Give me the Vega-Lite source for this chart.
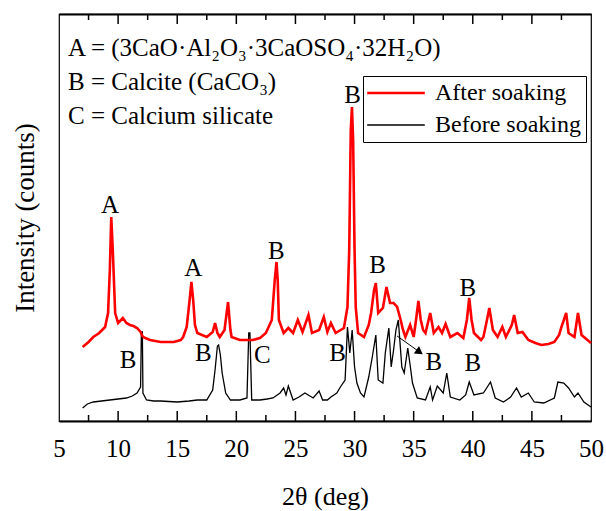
{
  "$schema": "https://vega.github.io/schema/vega-lite/v6.json",
  "width": 532,
  "height": 407,
  "autosize": {"type": "none"},
  "padding": {"left": 59, "top": 14, "right": 15, "bottom": 90},
  "config": {
    "font": "Liberation Serif",
    "view": {"stroke": "#000", "strokeWidth": 1.2},
    "axis": {"labelColor": "#000", "titleColor": "#000", "titleFontWeight": "normal", "grid": false, "domainColor": "#000", "tickColor": "#000"}
  },
  "datasets": {
    "xrd": [
      {"two_theta": 7.0, "intensity": 74, "series": "After soaking"},
      {"two_theta": 7.5, "intensity": 79, "series": "After soaking"},
      {"two_theta": 7.9, "intensity": 84, "series": "After soaking"},
      {"two_theta": 8.4, "intensity": 88, "series": "After soaking"},
      {"two_theta": 8.9, "intensity": 94, "series": "After soaking"},
      {"two_theta": 9.15, "intensity": 108, "series": "After soaking"},
      {"two_theta": 9.3, "intensity": 151, "series": "After soaking"},
      {"two_theta": 9.42, "intensity": 204, "series": "After soaking"},
      {"two_theta": 9.55, "intensity": 171, "series": "After soaking"},
      {"two_theta": 9.75, "intensity": 108, "series": "After soaking"},
      {"two_theta": 10.0, "intensity": 98, "series": "After soaking"},
      {"two_theta": 10.4, "intensity": 103, "series": "After soaking"},
      {"two_theta": 10.7, "intensity": 98, "series": "After soaking"},
      {"two_theta": 11.0, "intensity": 96, "series": "After soaking"},
      {"two_theta": 11.3, "intensity": 95, "series": "After soaking"},
      {"two_theta": 11.6, "intensity": 93, "series": "After soaking"},
      {"two_theta": 11.9, "intensity": 89, "series": "After soaking"},
      {"two_theta": 12.1, "intensity": 84, "series": "After soaking"},
      {"two_theta": 12.7, "intensity": 81, "series": "After soaking"},
      {"two_theta": 13.6, "intensity": 79, "series": "After soaking"},
      {"two_theta": 14.7, "intensity": 79, "series": "After soaking"},
      {"two_theta": 15.3, "intensity": 81, "series": "After soaking"},
      {"two_theta": 15.5, "intensity": 84, "series": "After soaking"},
      {"two_theta": 15.8, "intensity": 94, "series": "After soaking"},
      {"two_theta": 16.05, "intensity": 121, "series": "After soaking"},
      {"two_theta": 16.2, "intensity": 139, "series": "After soaking"},
      {"two_theta": 16.35, "intensity": 121, "series": "After soaking"},
      {"two_theta": 16.5, "intensity": 96, "series": "After soaking"},
      {"two_theta": 16.7, "intensity": 88, "series": "After soaking"},
      {"two_theta": 17.5, "intensity": 84, "series": "After soaking"},
      {"two_theta": 18.0, "intensity": 89, "series": "After soaking"},
      {"two_theta": 18.2, "intensity": 98, "series": "After soaking"},
      {"two_theta": 18.4, "intensity": 88, "series": "After soaking"},
      {"two_theta": 18.6, "intensity": 84, "series": "After soaking"},
      {"two_theta": 19.0, "intensity": 91, "series": "After soaking"},
      {"two_theta": 19.3, "intensity": 119, "series": "After soaking"},
      {"two_theta": 19.5, "intensity": 91, "series": "After soaking"},
      {"two_theta": 19.6, "intensity": 84, "series": "After soaking"},
      {"two_theta": 20.3, "intensity": 81, "series": "After soaking"},
      {"two_theta": 21.4, "intensity": 81, "series": "After soaking"},
      {"two_theta": 22.0, "intensity": 83, "series": "After soaking"},
      {"two_theta": 22.5, "intensity": 88, "series": "After soaking"},
      {"two_theta": 23.0, "intensity": 101, "series": "After soaking"},
      {"two_theta": 23.25, "intensity": 141, "series": "After soaking"},
      {"two_theta": 23.4, "intensity": 159, "series": "After soaking"},
      {"two_theta": 23.5, "intensity": 141, "series": "After soaking"},
      {"two_theta": 23.6, "intensity": 101, "series": "After soaking"},
      {"two_theta": 24.0, "intensity": 88, "series": "After soaking"},
      {"two_theta": 24.4, "intensity": 93, "series": "After soaking"},
      {"two_theta": 24.8, "intensity": 88, "series": "After soaking"},
      {"two_theta": 25.2, "intensity": 101, "series": "After soaking"},
      {"two_theta": 25.6, "intensity": 89, "series": "After soaking"},
      {"two_theta": 26.1, "intensity": 106, "series": "After soaking"},
      {"two_theta": 26.4, "intensity": 88, "series": "After soaking"},
      {"two_theta": 27.0, "intensity": 91, "series": "After soaking"},
      {"two_theta": 27.4, "intensity": 104, "series": "After soaking"},
      {"two_theta": 27.7, "intensity": 89, "series": "After soaking"},
      {"two_theta": 28.0, "intensity": 98, "series": "After soaking"},
      {"two_theta": 28.4, "intensity": 88, "series": "After soaking"},
      {"two_theta": 29.1, "intensity": 93, "series": "After soaking"},
      {"two_theta": 29.4, "intensity": 114, "series": "After soaking"},
      {"two_theta": 29.55, "intensity": 171, "series": "After soaking"},
      {"two_theta": 29.68, "intensity": 291, "series": "After soaking"},
      {"two_theta": 29.78, "intensity": 314, "series": "After soaking"},
      {"two_theta": 29.88, "intensity": 281, "series": "After soaking"},
      {"two_theta": 30.0, "intensity": 171, "series": "After soaking"},
      {"two_theta": 30.1, "intensity": 114, "series": "After soaking"},
      {"two_theta": 30.3, "intensity": 88, "series": "After soaking"},
      {"two_theta": 30.8, "intensity": 84, "series": "After soaking"},
      {"two_theta": 31.2, "intensity": 96, "series": "After soaking"},
      {"two_theta": 31.4, "intensity": 108, "series": "After soaking"},
      {"two_theta": 31.65, "intensity": 131, "series": "After soaking"},
      {"two_theta": 31.8, "intensity": 138, "series": "After soaking"},
      {"two_theta": 32.0, "intensity": 108, "series": "After soaking"},
      {"two_theta": 32.4, "intensity": 113, "series": "After soaking"},
      {"two_theta": 32.7, "intensity": 134, "series": "After soaking"},
      {"two_theta": 33.0, "intensity": 118, "series": "After soaking"},
      {"two_theta": 33.3, "intensity": 118, "series": "After soaking"},
      {"two_theta": 33.6, "intensity": 114, "series": "After soaking"},
      {"two_theta": 33.9, "intensity": 101, "series": "After soaking"},
      {"two_theta": 34.1, "intensity": 91, "series": "After soaking"},
      {"two_theta": 34.3, "intensity": 84, "series": "After soaking"},
      {"two_theta": 34.7, "intensity": 96, "series": "After soaking"},
      {"two_theta": 35.0, "intensity": 84, "series": "After soaking"},
      {"two_theta": 35.2, "intensity": 101, "series": "After soaking"},
      {"two_theta": 35.4, "intensity": 120, "series": "After soaking"},
      {"two_theta": 35.6, "intensity": 101, "series": "After soaking"},
      {"two_theta": 35.8, "intensity": 91, "series": "After soaking"},
      {"two_theta": 36.0, "intensity": 88, "series": "After soaking"},
      {"two_theta": 36.4, "intensity": 108, "series": "After soaking"},
      {"two_theta": 36.7, "intensity": 88, "series": "After soaking"},
      {"two_theta": 37.1, "intensity": 94, "series": "After soaking"},
      {"two_theta": 37.4, "intensity": 88, "series": "After soaking"},
      {"two_theta": 37.7, "intensity": 97, "series": "After soaking"},
      {"two_theta": 38.1, "intensity": 84, "series": "After soaking"},
      {"two_theta": 38.7, "intensity": 88, "series": "After soaking"},
      {"two_theta": 39.2, "intensity": 83, "series": "After soaking"},
      {"two_theta": 39.5, "intensity": 101, "series": "After soaking"},
      {"two_theta": 39.7, "intensity": 123, "series": "After soaking"},
      {"two_theta": 39.9, "intensity": 101, "series": "After soaking"},
      {"two_theta": 40.1, "intensity": 88, "series": "After soaking"},
      {"two_theta": 40.7, "intensity": 81, "series": "After soaking"},
      {"two_theta": 40.9, "intensity": 84, "series": "After soaking"},
      {"two_theta": 41.2, "intensity": 101, "series": "After soaking"},
      {"two_theta": 41.4, "intensity": 113, "series": "After soaking"},
      {"two_theta": 41.7, "intensity": 91, "series": "After soaking"},
      {"two_theta": 42.1, "intensity": 84, "series": "After soaking"},
      {"two_theta": 42.5, "intensity": 94, "series": "After soaking"},
      {"two_theta": 42.8, "intensity": 84, "series": "After soaking"},
      {"two_theta": 43.3, "intensity": 96, "series": "After soaking"},
      {"two_theta": 43.5, "intensity": 106, "series": "After soaking"},
      {"two_theta": 43.8, "intensity": 88, "series": "After soaking"},
      {"two_theta": 44.2, "intensity": 89, "series": "After soaking"},
      {"two_theta": 44.7, "intensity": 81, "series": "After soaking"},
      {"two_theta": 45.3, "intensity": 78, "series": "After soaking"},
      {"two_theta": 45.8, "intensity": 76, "series": "After soaking"},
      {"two_theta": 46.4, "intensity": 77, "series": "After soaking"},
      {"two_theta": 46.9, "intensity": 79, "series": "After soaking"},
      {"two_theta": 47.3, "intensity": 86, "series": "After soaking"},
      {"two_theta": 47.5, "intensity": 94, "series": "After soaking"},
      {"two_theta": 47.9, "intensity": 108, "series": "After soaking"},
      {"two_theta": 48.1, "intensity": 88, "series": "After soaking"},
      {"two_theta": 48.6, "intensity": 84, "series": "After soaking"},
      {"two_theta": 48.9, "intensity": 108, "series": "After soaking"},
      {"two_theta": 49.2, "intensity": 86, "series": "After soaking"},
      {"two_theta": 49.7, "intensity": 81, "series": "After soaking"},
      {"two_theta": 50.0, "intensity": 78, "series": "After soaking"},
      {"two_theta": 7.0, "intensity": 13, "series": "Before soaking"},
      {"two_theta": 7.4, "intensity": 17, "series": "Before soaking"},
      {"two_theta": 7.9, "intensity": 19, "series": "Before soaking"},
      {"two_theta": 8.6, "intensity": 20, "series": "Before soaking"},
      {"two_theta": 9.3, "intensity": 21, "series": "Before soaking"},
      {"two_theta": 10.0, "intensity": 22, "series": "Before soaking"},
      {"two_theta": 10.7, "intensity": 23, "series": "Before soaking"},
      {"two_theta": 11.2, "intensity": 25, "series": "Before soaking"},
      {"two_theta": 11.6, "intensity": 28, "series": "Before soaking"},
      {"two_theta": 11.9, "intensity": 34, "series": "Before soaking"},
      {"two_theta": 11.97, "intensity": 89, "series": "Before soaking"},
      {"two_theta": 12.05, "intensity": 89, "series": "Before soaking"},
      {"two_theta": 12.1, "intensity": 28, "series": "Before soaking"},
      {"two_theta": 12.4, "intensity": 21, "series": "Before soaking"},
      {"two_theta": 13.0, "intensity": 20, "series": "Before soaking"},
      {"two_theta": 13.6, "intensity": 20, "series": "Before soaking"},
      {"two_theta": 15.0, "intensity": 19, "series": "Before soaking"},
      {"two_theta": 16.0, "intensity": 20, "series": "Before soaking"},
      {"two_theta": 16.7, "intensity": 21, "series": "Before soaking"},
      {"two_theta": 17.5, "intensity": 21, "series": "Before soaking"},
      {"two_theta": 18.0, "intensity": 31, "series": "Before soaking"},
      {"two_theta": 18.2, "intensity": 51, "series": "Before soaking"},
      {"two_theta": 18.4, "intensity": 75, "series": "Before soaking"},
      {"two_theta": 18.5, "intensity": 76, "series": "Before soaking"},
      {"two_theta": 18.65, "intensity": 66, "series": "Before soaking"},
      {"two_theta": 18.8, "intensity": 48, "series": "Before soaking"},
      {"two_theta": 19.1, "intensity": 28, "series": "Before soaking"},
      {"two_theta": 19.5, "intensity": 21, "series": "Before soaking"},
      {"two_theta": 20.3, "intensity": 21, "series": "Before soaking"},
      {"two_theta": 20.9, "intensity": 23, "series": "Before soaking"},
      {"two_theta": 21.05, "intensity": 88, "series": "Before soaking"},
      {"two_theta": 21.15, "intensity": 88, "series": "Before soaking"},
      {"two_theta": 21.3, "intensity": 21, "series": "Before soaking"},
      {"two_theta": 22.0, "intensity": 21, "series": "Before soaking"},
      {"two_theta": 22.6, "intensity": 22, "series": "Before soaking"},
      {"two_theta": 23.1, "intensity": 23, "series": "Before soaking"},
      {"two_theta": 23.7, "intensity": 28, "series": "Before soaking"},
      {"two_theta": 24.0, "intensity": 33, "series": "Before soaking"},
      {"two_theta": 24.2, "intensity": 26, "series": "Before soaking"},
      {"two_theta": 24.4, "intensity": 35, "series": "Before soaking"},
      {"two_theta": 24.8, "intensity": 21, "series": "Before soaking"},
      {"two_theta": 25.3, "intensity": 24, "series": "Before soaking"},
      {"two_theta": 25.8, "intensity": 28, "series": "Before soaking"},
      {"two_theta": 26.5, "intensity": 23, "series": "Before soaking"},
      {"two_theta": 27.0, "intensity": 30, "series": "Before soaking"},
      {"two_theta": 27.3, "intensity": 21, "series": "Before soaking"},
      {"two_theta": 27.7, "intensity": 21, "series": "Before soaking"},
      {"two_theta": 28.0, "intensity": 24, "series": "Before soaking"},
      {"two_theta": 28.5, "intensity": 28, "series": "Before soaking"},
      {"two_theta": 28.8, "intensity": 34, "series": "Before soaking"},
      {"two_theta": 29.2, "intensity": 41, "series": "Before soaking"},
      {"two_theta": 29.4, "intensity": 94, "series": "Before soaking"},
      {"two_theta": 29.6, "intensity": 68, "series": "Before soaking"},
      {"two_theta": 29.8, "intensity": 91, "series": "Before soaking"},
      {"two_theta": 30.0, "intensity": 54, "series": "Before soaking"},
      {"two_theta": 30.2, "intensity": 38, "series": "Before soaking"},
      {"two_theta": 30.5, "intensity": 28, "series": "Before soaking"},
      {"two_theta": 30.8, "intensity": 24, "series": "Before soaking"},
      {"two_theta": 31.2, "intensity": 44, "series": "Before soaking"},
      {"two_theta": 31.5, "intensity": 64, "series": "Before soaking"},
      {"two_theta": 31.8, "intensity": 86, "series": "Before soaking"},
      {"two_theta": 32.0, "intensity": 41, "series": "Before soaking"},
      {"two_theta": 32.4, "intensity": 38, "series": "Before soaking"},
      {"two_theta": 32.6, "intensity": 68, "series": "Before soaking"},
      {"two_theta": 32.9, "intensity": 93, "series": "Before soaking"},
      {"two_theta": 33.1, "intensity": 54, "series": "Before soaking"},
      {"two_theta": 33.3, "intensity": 71, "series": "Before soaking"},
      {"two_theta": 33.5, "intensity": 91, "series": "Before soaking"},
      {"two_theta": 33.7, "intensity": 101, "series": "Before soaking"},
      {"two_theta": 34.0, "intensity": 54, "series": "Before soaking"},
      {"two_theta": 34.2, "intensity": 48, "series": "Before soaking"},
      {"two_theta": 34.5, "intensity": 73, "series": "Before soaking"},
      {"two_theta": 34.7, "intensity": 56, "series": "Before soaking"},
      {"two_theta": 34.9, "intensity": 38, "series": "Before soaking"},
      {"two_theta": 35.3, "intensity": 23, "series": "Before soaking"},
      {"two_theta": 36.0, "intensity": 21, "series": "Before soaking"},
      {"two_theta": 36.4, "intensity": 34, "series": "Before soaking"},
      {"two_theta": 36.6, "intensity": 21, "series": "Before soaking"},
      {"two_theta": 37.0, "intensity": 35, "series": "Before soaking"},
      {"two_theta": 37.5, "intensity": 28, "series": "Before soaking"},
      {"two_theta": 37.8, "intensity": 48, "series": "Before soaking"},
      {"two_theta": 38.1, "intensity": 24, "series": "Before soaking"},
      {"two_theta": 38.9, "intensity": 21, "series": "Before soaking"},
      {"two_theta": 39.4, "intensity": 26, "series": "Before soaking"},
      {"two_theta": 39.7, "intensity": 39, "series": "Before soaking"},
      {"two_theta": 40.1, "intensity": 26, "series": "Before soaking"},
      {"two_theta": 40.9, "intensity": 28, "series": "Before soaking"},
      {"two_theta": 41.5, "intensity": 39, "series": "Before soaking"},
      {"two_theta": 41.9, "intensity": 23, "series": "Before soaking"},
      {"two_theta": 42.6, "intensity": 19, "series": "Before soaking"},
      {"two_theta": 43.2, "intensity": 24, "series": "Before soaking"},
      {"two_theta": 43.7, "intensity": 33, "series": "Before soaking"},
      {"two_theta": 44.1, "intensity": 24, "series": "Before soaking"},
      {"two_theta": 44.7, "intensity": 28, "series": "Before soaking"},
      {"two_theta": 45.2, "intensity": 19, "series": "Before soaking"},
      {"two_theta": 46.0, "intensity": 18, "series": "Before soaking"},
      {"two_theta": 46.9, "intensity": 23, "series": "Before soaking"},
      {"two_theta": 47.2, "intensity": 39, "series": "Before soaking"},
      {"two_theta": 47.7, "intensity": 38, "series": "Before soaking"},
      {"two_theta": 48.1, "intensity": 33, "series": "Before soaking"},
      {"two_theta": 48.6, "intensity": 24, "series": "Before soaking"},
      {"two_theta": 48.9, "intensity": 28, "series": "Before soaking"},
      {"two_theta": 49.4, "intensity": 19, "series": "Before soaking"},
      {"two_theta": 50.0, "intensity": 14, "series": "Before soaking"}
    ],
    "ticks": [
      {"two_theta": 10, "kind": "major"},
      {"two_theta": 15, "kind": "major"},
      {"two_theta": 20, "kind": "major"},
      {"two_theta": 25, "kind": "major"},
      {"two_theta": 30, "kind": "major"},
      {"two_theta": 35, "kind": "major"},
      {"two_theta": 40, "kind": "major"},
      {"two_theta": 45, "kind": "major"},
      {"two_theta": 7.5, "kind": "minor"},
      {"two_theta": 12.5, "kind": "minor"},
      {"two_theta": 17.5, "kind": "minor"},
      {"two_theta": 22.5, "kind": "minor"},
      {"two_theta": 27.5, "kind": "minor"},
      {"two_theta": 32.5, "kind": "minor"},
      {"two_theta": 37.5, "kind": "minor"},
      {"two_theta": 42.5, "kind": "minor"},
      {"two_theta": 47.5, "kind": "minor"}
    ],
    "peaks": [
      {"two_theta": 9.32, "intensity": 216, "label": "A"},
      {"two_theta": 16.36, "intensity": 153, "label": "A"},
      {"two_theta": 23.39, "intensity": 170, "label": "B"},
      {"two_theta": 29.83, "intensity": 326, "label": "B"},
      {"two_theta": 31.95, "intensity": 156, "label": "B"},
      {"two_theta": 39.58, "intensity": 133, "label": "B"},
      {"two_theta": 10.85, "intensity": 61, "label": "B"},
      {"two_theta": 17.2, "intensity": 68, "label": "B"},
      {"two_theta": 22.2, "intensity": 66, "label": "C"},
      {"two_theta": 28.56, "intensity": 68, "label": "B"},
      {"two_theta": 36.7, "intensity": 59, "label": "B"},
      {"two_theta": 40.0, "intensity": 58, "label": "B"}
    ],
    "notes": [
      {"two_theta": 5.76, "intensity": 373, "text": "A = (3CaO·Al₂O₃·3CaOSO₄·32H₂O)"},
      {"two_theta": 5.76, "intensity": 339, "text": "B = Calcite (CaCO₃)"},
      {"two_theta": 5.76, "intensity": 305, "text": "C = Calcium silicate"}
    ],
    "arrow": [
      {"x1": 33.6, "y1": 85, "x2": 35.5, "y2": 69, "angle": 35}
    ]
  },
  "resolve": {"axis": {"x": "independent"}},
  "layer": [
    {
      "data": {"name": "xrd"},
      "transform": [{"filter": "datum.series === 'Before soaking'"}],
      "mark": {"type": "line"},
      "encoding": {
        "x": {
          "field": "two_theta", "type": "quantitative",
          "scale": {"domain": [5, 50], "nice": false, "zero": false},
          "axis": {
            "orient": "bottom",
            "values": [5, 10, 15, 20, 25, 30, 35, 40, 45, 50],
            "format": "d",
            "domain": true,
            "domainWidth": 2,
            "ticks": false,
            "labelFontSize": 25,
            "labelPadding": 15,
            "labelFlush": false,
            "labelOverlap": false,
            "title": "2θ (deg)",
            "titleFontSize": 26,
            "titlePadding": 22
          }
        },
        "y": {
          "field": "intensity", "type": "quantitative",
          "scale": {"domain": [0, 407], "nice": false},
          "axis": {"title": "Intensity (counts)", "labels": false, "ticks": false, "domain": false, "titleFontSize": 27, "titlePadding": 20}
        },
        "color": {
          "field": "series", "type": "nominal",
          "scale": {"domain": ["After soaking", "Before soaking"], "range": ["#ff0000", "#000000"]},
          "legend": {
            "orient": "none", "legendX": 304, "legendY": 62, "title": null,
            "symbolType": "M-3.2,0H3.2", "symbolSize": 324, "symbolOffset": 16,
            "labelFontSize": 24, "labelColor": "#000", "labelFont": "Liberation Serif", "labelOffset": 27,
            "strokeColor": "#000", "padding": 5, "rowPadding": 8, "fillColor": "#fff"
          }
        },
        "strokeWidth": {
          "field": "series", "type": "nominal",
          "scale": {"domain": ["After soaking", "Before soaking"], "range": [2.6, 1.3]},
          "legend": {
            "orient": "none", "legendX": 304, "legendY": 62, "title": null,
            "symbolType": "M-3.2,0H3.2", "symbolSize": 324, "symbolOffset": 16,
            "labelFontSize": 24, "labelColor": "#000", "labelFont": "Liberation Serif", "labelOffset": 27,
            "strokeColor": "#000", "padding": 5, "rowPadding": 8, "fillColor": "#fff"
          }
        }
      }
    },
    {
      "data": {"name": "xrd"},
      "transform": [{"filter": "datum.series === 'After soaking'"}],
      "mark": {"type": "line"},
      "encoding": {
        "x": {
          "field": "two_theta", "type": "quantitative",
          "axis": {"orient": "top", "labels": false, "ticks": false, "domain": true, "domainWidth": 2, "title": null}
        },
        "y": {"field": "intensity", "type": "quantitative"},
        "color": {"field": "series", "type": "nominal"},
        "strokeWidth": {"field": "series", "type": "nominal"}
      }
    },
    {
      "data": {"name": "ticks"},
      "transform": [{"filter": "datum.kind === 'major'"}],
      "mark": {"type": "rule", "color": "#000", "strokeWidth": 1.5},
      "encoding": {
        "x": {"field": "two_theta", "type": "quantitative", "axis": null},
        "y": {"datum": 0},
        "y2": {"datum": 10}
      }
    },
    {
      "data": {"name": "ticks"},
      "transform": [{"filter": "datum.kind === 'major'"}],
      "mark": {"type": "rule", "color": "#000", "strokeWidth": 1.5},
      "encoding": {
        "x": {"field": "two_theta", "type": "quantitative", "axis": null},
        "y": {"datum": 407},
        "y2": {"datum": 397}
      }
    },
    {
      "data": {"name": "ticks"},
      "transform": [{"filter": "datum.kind === 'minor'"}],
      "mark": {"type": "rule", "color": "#000", "strokeWidth": 1.5},
      "encoding": {
        "x": {"field": "two_theta", "type": "quantitative", "axis": null},
        "y": {"datum": 0},
        "y2": {"datum": 6}
      }
    },
    {
      "data": {"name": "ticks"},
      "transform": [{"filter": "datum.kind === 'minor'"}],
      "mark": {"type": "rule", "color": "#000", "strokeWidth": 1.5},
      "encoding": {
        "x": {"field": "two_theta", "type": "quantitative", "axis": null},
        "y": {"datum": 407},
        "y2": {"datum": 401}
      }
    },
    {
      "data": {"name": "arrow"},
      "mark": {"type": "rule", "color": "#000", "strokeWidth": 1},
      "encoding": {
        "x": {"field": "x1", "type": "quantitative", "axis": null},
        "y": {"field": "y1", "type": "quantitative"},
        "x2": {"field": "x2"},
        "y2": {"field": "y2"}
      }
    },
    {
      "data": {"name": "arrow"},
      "mark": {"type": "point", "shape": "triangle-right", "filled": true, "color": "#000", "size": 80, "opacity": 1},
      "encoding": {
        "x": {"field": "x2", "type": "quantitative", "axis": null},
        "y": {"field": "y2", "type": "quantitative"},
        "angle": {"field": "angle", "type": "quantitative", "scale": null}
      }
    },
    {
      "data": {"name": "peaks"},
      "mark": {"type": "text", "fontSize": 25, "color": "#000", "align": "center", "baseline": "middle", "font": "Liberation Serif"},
      "encoding": {
        "x": {"field": "two_theta", "type": "quantitative", "axis": null},
        "y": {"field": "intensity", "type": "quantitative"},
        "text": {"field": "label"}
      }
    },
    {
      "data": {"name": "notes"},
      "mark": {"type": "text", "fontSize": 25, "color": "#000", "align": "left", "baseline": "middle", "font": "Liberation Serif"},
      "encoding": {
        "x": {"field": "two_theta", "type": "quantitative", "axis": null},
        "y": {"field": "intensity", "type": "quantitative"},
        "text": {"field": "text"}
      }
    }
  ]
}
